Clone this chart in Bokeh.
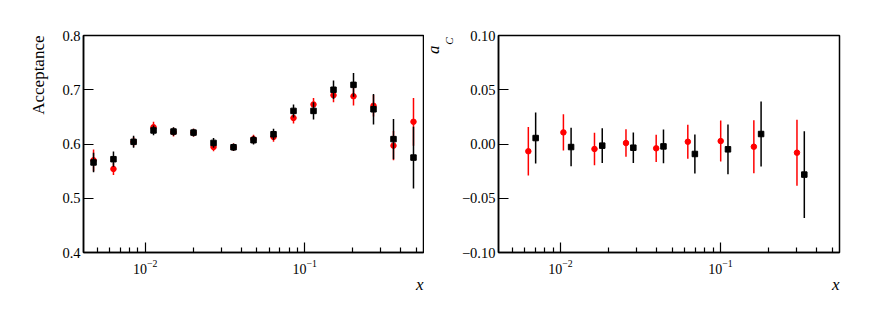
import math
from bokeh.plotting import figure
from bokeh.layouts import row
from bokeh.models import (ColumnDataSource, FixedTicker, CustomJSTickFormatter,
                          Range1d, LogTickFormatter, Title)
from bokeh.embed import file_html
from bokeh.resources import INLINE

# ---------------- data: left panel (Acceptance vs x) ----------------
acc_x = [0.00474, 0.00632, 0.00845, 0.01127, 0.01504, 0.02008, 0.02681, 0.03578, 0.04776,
         0.06375, 0.08509, 0.11358, 0.15160, 0.20235, 0.27009, 0.36050, 0.48118]
acc_black = [0.566, 0.572, 0.604, 0.625, 0.623, 0.621, 0.602, 0.594, 0.607,
             0.618, 0.661, 0.661, 0.700, 0.709, 0.664, 0.609, 0.575]
acc_black_err = [0.018, 0.014, 0.011, 0.009, 0.008, 0.007, 0.009, 0.007, 0.008,
                 0.010, 0.012, 0.016, 0.017, 0.022, 0.028, 0.037, 0.057]
acc_red = [0.570, 0.554, 0.604, 0.631, 0.622, 0.621, 0.5945, 0.594, 0.609,
           0.613, 0.648, 0.673, 0.690, 0.688, 0.6705, 0.597, 0.641]
acc_red_err = [0.020, 0.011, 0.009, 0.010, 0.008, 0.007, 0.008, 0.007, 0.008,
               0.009, 0.010, 0.012, 0.013, 0.017, 0.020, 0.027, 0.044]

# ---------------- data: right panel (a_C vs x) ----------------
ac_x_red = [0.0063, 0.01044, 0.01633, 0.0257, 0.0397, 0.0626, 0.1005, 0.162, 0.3014]
ac_red = [-0.0067, 0.0107, -0.0046, 0.0009, -0.0040, 0.0021, 0.0027, -0.0025, -0.0080]
ac_red_err = [0.0223, 0.0167, 0.0149, 0.0126, 0.0126, 0.0157, 0.0189, 0.0244, 0.0304]
ac_x_black = [0.0070, 0.01166, 0.01826, 0.02857, 0.0441, 0.0693, 0.1116, 0.1798, 0.335]
ac_black = [0.0055, -0.0028, -0.0015, -0.0034, -0.0022, -0.0092, -0.0049, 0.0092, -0.0282]
ac_black_err = [0.0235, 0.0178, 0.0161, 0.0141, 0.0155, 0.018, 0.0229, 0.0299, 0.040]

x_range = (0.0041, 0.556)
acc_range = (0.4, 0.8)
ac_range = (-0.1, 0.1)
acc_ticks = [0.4, 0.5, 0.6, 0.7, 0.8]
ac_ticks = [-0.10, -0.05, 0.0, 0.05, 0.10]
x_major = [0.01, 0.1]
x_minor = [m * d for d in (0.001, 0.01, 0.1) for m in range(2, 10)]

FONT = "Liberation Serif"
RED = "#ff0000"
TOP, BOTTOM = 35, 55


def title(text, size, style, standoff, offset=0):
    kw = dict(text=text, align="right", text_font=FONT, text_font_style=style,
              text_color="black", text_font_size=size, offset=offset)
    try:
        return Title(standoff=standoff, **kw)
    except Exception:
        return Title(standoff=max(standoff, 0), **kw)


def make_fig(yr, yticks, bl, br, fw):
    p = figure(x_axis_type="log", width=bl + fw + br, height=TOP + 217 + BOTTOM,
               frame_width=fw, frame_height=217,
               min_border_left=bl, min_border_right=br, min_border_top=TOP,
               min_border_bottom=BOTTOM,
               x_range=Range1d(*x_range), y_range=Range1d(*yr),
               output_backend="svg", toolbar_location=None)
    p.xgrid.visible = False
    p.ygrid.visible = False
    p.outline_line_color = "black"
    p.outline_line_width = 1.5
    p.outline_line_alpha = 1.0
    p.background_fill_color = "white"
    p.border_fill_color = "white"
    for ax in (p.xaxis[0], p.yaxis[0]):
        ax.axis_line_width = 1.5
        ax.axis_line_color = "black"
        ax.major_tick_in = 10
        ax.major_tick_out = 0
        ax.minor_tick_in = 5
        ax.minor_tick_out = 0
        ax.major_tick_line_width = 1.2
        ax.minor_tick_line_width = 1.2
        ax.major_label_text_font = FONT
        ax.major_label_text_color = "black"
    p.xaxis[0].ticker = FixedTicker(ticks=x_major, minor_ticks=x_minor)
    p.xaxis[0].formatter = LogTickFormatter()
    p.xaxis[0].major_label_text_font_size = "14px"
    p.xaxis[0].major_label_standoff = 7
    p.yaxis[0].ticker = FixedTicker(ticks=yticks)
    p.yaxis[0].minor_tick_line_color = None
    p.yaxis[0].major_label_text_font_size = "14.5px"
    p.yaxis[0].major_label_standoff = 3
    # x label (bottom right)
    p.add_layout(title("x", "17px", "italic", -7), "below")
    return p


def draw(p, xs, ys, es, color, marker):
    src = ColumnDataSource(dict(x=xs, y=ys, lo=[y - e for y, e in zip(ys, es)],
                                hi=[y + e for y, e in zip(ys, es)]))
    p.segment(x0="x", y0="lo", x1="x", y1="hi", source=src, line_color=color, line_width=1.5)
    p.scatter(x="x", y="y", source=src, marker=marker, size=5.5,
              fill_color=color, line_color=color)


# left figure
p1 = make_fig(acc_range, acc_ticks, 83, 1, 340)
draw(p1, acc_x, acc_red, acc_red_err, RED, "circle")
draw(p1, acc_x, acc_black, acc_black_err, "black", "square")
p1.add_layout(title("Acceptance", "17px", "normal", 23), "left")

# right figure
p2 = make_fig(ac_range, ac_ticks, 74, 25, 341)
p2.yaxis[0].formatter = CustomJSTickFormatter(
    code="return (tick < -1e-9 ? '\u2212' : '') + Math.abs(tick).toFixed(2);")
draw(p2, ac_x_red, ac_red, ac_red_err, RED, "circle")
draw(p2, ac_x_black, ac_black, ac_black_err, "black", "square")
p2.add_layout(title("C", "11px", "italic", 8, 2), "left")
p2.add_layout(title("a", "17px", "italic", -12, 10), "left")

layout = row(p1, p2)
with open("out.html", "w") as f:
    f.write(file_html(layout, INLINE))
